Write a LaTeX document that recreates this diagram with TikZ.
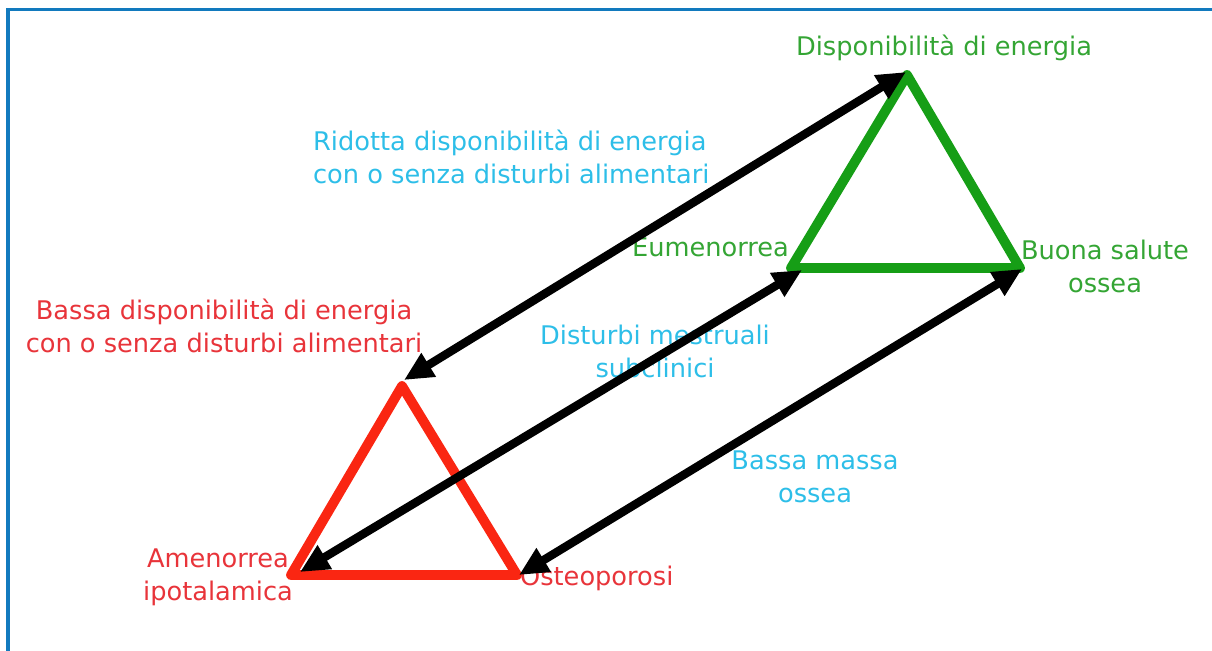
\documentclass[tikz,border=0pt]{standalone}
\usepackage{fontspec}
\setmainfont{DejaVu Sans}
\usetikzlibrary{arrows.meta, positioning}
\definecolor{frameblue}{RGB}{18,122,190}
\definecolor{trigreen}{RGB}{22,158,22}
\definecolor{trired}{RGB}{250,38,18}
\definecolor{txtgreen}{RGB}{52,165,52}
\definecolor{txtred}{RGB}{232,52,58}
\definecolor{txtcyan}{RGB}{45,190,232}

\begin{document}
\begin{tikzpicture}[x=0.02cm, y=-0.02cm, font=\fontsize{14.6}{18.8}\selectfont]
\tikzstyle{greentext} = [text=txtgreen, align=center, inner sep=1pt]
\tikzstyle{redtext} = [text=txtred, align=center, inner sep=1pt]
\tikzstyle{cyantext} = [text=txtcyan, align=center, inner sep=1pt]
\tikzstyle{tri} = [line width=5.6pt, line join=round]
\tikzstyle{link} = [draw, black, line width=4.8pt, {Triangle[length=0.58cm, width=0.52cm]}-{Triangle[length=0.58cm, width=0.52cm]}]

\useasboundingbox (0,0) rectangle (1212,650);
\draw [frameblue, line width=1.8pt] (8,652) -- (8,9.5) -- (1214,9.5);

% corners of the two triangles
\coordinate (ga) at (907,75);
\coordinate (gl) at (791,268);
\coordinate (gr) at (1020,268);
\coordinate (ra) at (402,386);
\coordinate (rl) at (291,575);
\coordinate (rr) at (517,575);

% texts
\node (dispo) [greentext] at (944,48) {Disponibilità di energia};
\node (eumen) [greentext, anchor=east] at (791,247) {Eumenorrea};
\node (buona) [greentext] at (1105,266) {Buona salute\\ossea};
\node (ridotta) [cyantext, anchor=west, align=left] at (311,157) {Ridotta disponibilità di energia\\con o senza disturbi alimentari};
\node (bassa) [redtext] at (224,326) {Bassa disponibilità di energia\\con o senza disturbi alimentari};
\node (mestr) [cyantext] at (655,351) {Disturbi mestruali\\subclinici};
\node (massa) [cyantext] at (815,477) {Bassa massa\\ossea};
\node (amen) [redtext] at (218,577) {Amenorrea\\ipotalamica};
\node (osteo) [redtext, anchor=west] at (518,578) {Osteoporosi};

% triangles
\draw [tri, trigreen] (ga) -- (gl) -- (gr) -- cycle;
\draw [tri, trired] (ra) -- (rl) -- (rr) -- cycle;

% double arrows
\coordinate (ra') at (404,380);
\coordinate (ga') at (906,72);
\coordinate (rl') at (300,572);
\coordinate (gl') at (802,270);
\coordinate (rr') at (519,575);
\coordinate (gr') at (1022,269);
\draw [link] (ra') -- (ga');
\draw [link] (rl') -- (gl');
\draw [link] (rr') -- (gr');
\end{tikzpicture}
\end{document}
